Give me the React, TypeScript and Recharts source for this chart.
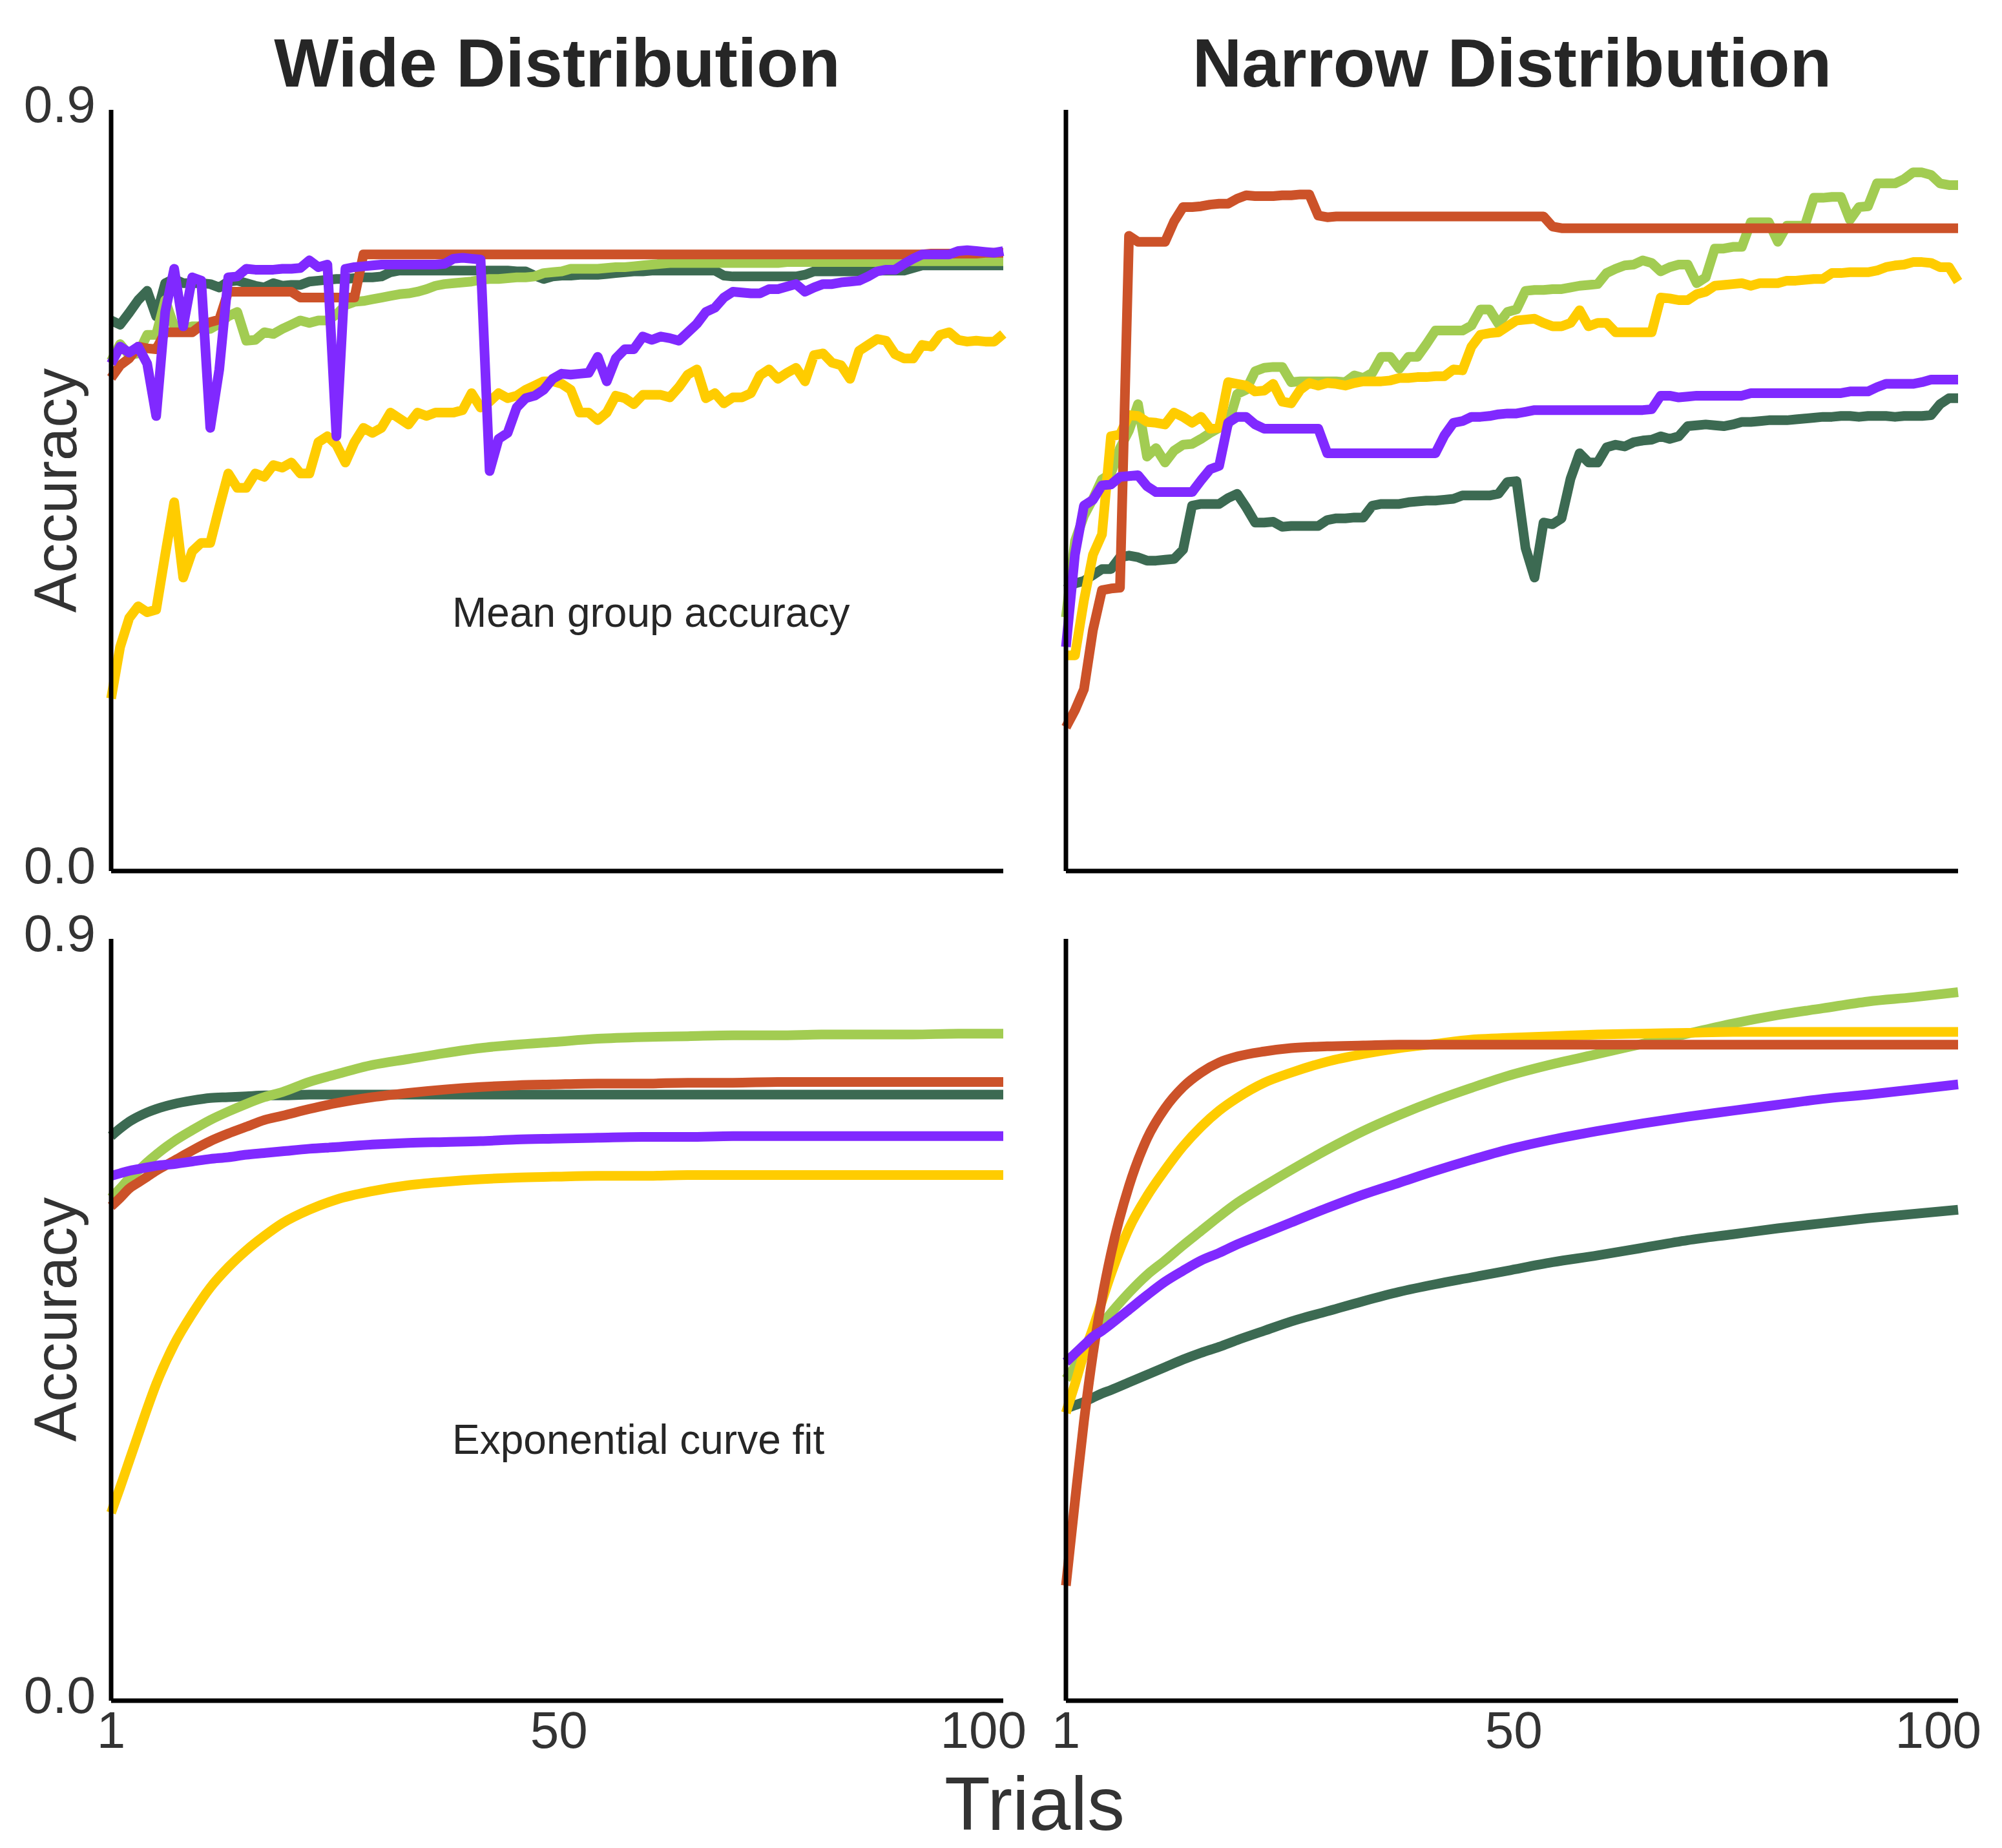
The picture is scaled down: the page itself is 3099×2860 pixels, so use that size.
import React from 'react';
import { LineChart, Line, XAxis, YAxis } from 'recharts';

// ---------- categories ----------
const TRIALS = [
  1, 2, 3, 4, 5, 6, 7, 8, 9, 10, 11, 12, 13, 14, 15, 16, 17, 18, 19, 20,
  21, 22, 23, 24, 25, 26, 27, 28, 29, 30, 31, 32, 33, 34, 35, 36, 37, 38, 39, 40,
  41, 42, 43, 44, 45, 46, 47, 48, 49, 50, 51, 52, 53, 54, 55, 56, 57, 58, 59, 60,
  61, 62, 63, 64, 65, 66, 67, 68, 69, 70, 71, 72, 73, 74, 75, 76, 77, 78, 79, 80,
  81, 82, 83, 84, 85, 86, 87, 88, 89, 90, 91, 92, 93, 94, 95, 96, 97, 98, 99, 100,
];
const FIT_TRIALS = [1, 2, 3, 4, 5, 6, 8, 10, 12, 14, 16, 18, 20, 23, 26, 30, 34, 38, 42, 46, 50, 55, 60, 65, 70, 75, 80, 85, 90, 95, 100];

// ---------- tick labels ----------
const X_TICK_POS = [1, 50.7, 97.8];
const X_TICK_LABELS = ['1', '50', '100'];
const Y_TICKS = [0, 0.9];

// ---------- Wide distribution: mean group accuracy ----------
const WIDE_YELLOW = [
  .204, .265, .299, .313, .306, .309, .374, .436, .347, .378,
  .388, .388, .430, .470, .453, .453, .470, .466, .480, .477,
  .483, .470, .470, .507, .514, .504, .483, .507, .524, .518,
  .524, .542, .535, .528, .542, .538, .542, .542, .542, .545,
  .565, .548, .555, .565, .559, .562, .569, .574, .579, .579,
  .576, .569, .542, .542, .533, .542, .562, .559, .552, .563,
  .563, .563, .560, .572, .587, .593, .559, .565, .553, .560,
  .560, .565, .586, .593, .582, .589, .595, .579, .610, .612,
  .601, .598, .582, .615, .622, .629, .627, .611, .606, .606,
  .622, .620, .634, .637, .628, .626, .627, .626, .626, .635,
];
const WIDE_ORANGE = [
  .583, .598, .606, .620, .618, .617, .637, .637, .637, .637,
  .645, .649, .652, .685, .685, .685, .685, .685, .685, .685,
  .685, .678, .678, .678, .678, .678, .678, .678, .729, .729,
  .729, .729, .729, .729, .729, .729, .729, .729, .729, .729,
  .729, .729, .729, .729, .729, .729, .729, .729, .729, .729,
  .729, .729, .729, .729, .729, .729, .729, .729, .729, .729,
  .729, .729, .729, .729, .729, .729, .729, .729, .729, .729,
  .729, .729, .729, .729, .729, .729, .729, .729, .729, .729,
  .729, .729, .729, .729, .729, .729, .729, .729, .729, .729,
  .729, .730, .730, .730, .730, .730, .730, .731, .731, .731,
];
const WIDE_GREEN = [
  .603, .623, .610, .612, .634, .634, .675, .644, .641, .644,
  .644, .641, .647, .656, .661, .627, .628, .637, .635, .641,
  .646, .651, .648, .651, .651, .658, .669, .673, .674, .676,
  .678, .680, .682, .683, .685, .688, .692, .694, .695, .696,
  .697, .699, .700, .700, .701, .702, .702, .703, .707, .708,
  .709, .712, .712, .712, .712, .713, .714, .714, .715, .716,
  .717, .718, .719, .719, .719, .719, .719, .719, .719, .719,
  .719, .719, .719, .719, .719, .720, .720, .720, .720, .720,
  .720, .720, .720, .720, .720, .720, .720, .720, .721, .721,
  .721, .721, .721, .721, .721, .721, .721, .721, .721, .721,
];
const WIDE_DKGREEN = [
  .651, .646, .660, .675, .686, .656, .695, .700, .695, .695,
  .695, .694, .690, .697, .698, .695, .692, .690, .695, .692,
  .693, .693, .697, .698, .699, .700, .700, .701, .702, .702,
  .703, .708, .710, .710, .710, .710, .710, .710, .710, .710,
  .710, .710, .710, .710, .710, .709, .709, .704, .700, .703,
  .704, .704, .705, .705, .705, .706, .707, .708, .709, .709,
  .710, .710, .710, .710, .710, .710, .710, .710, .704, .703,
  .703, .703, .703, .703, .703, .703, .703, .705, .709, .709,
  .709, .709, .709, .709, .710, .710, .710, .710, .710, .713,
  .716, .716, .716, .716, .716, .716, .716, .716, .716, .716,
];
const WIDE_PURPLE = [
  .600, .620, .613, .620, .600, .538, .661, .712, .644, .702,
  .698, .524, .593, .702, .703, .712, .711, .711, .711, .712,
  .712, .713, .722, .714, .717, .514, .712, .714, .715, .716,
  .717, .717, .717, .717, .717, .717, .717, .718, .724, .725,
  .724, .723, .473, .511, .518, .548, .559, .562, .569, .582,
  .588, .587, .588, .589, .608, .579, .606, .617, .617, .632,
  .628, .632, .630, .627, .637, .647, .661, .666, .678, .685,
  .684, .683, .683, .688, .688, .691, .694, .685, .690, .694,
  .694, .696, .697, .698, .703, .709, .711, .711, .718, .724,
  .729, .729, .729, .729, .733, .734, .733, .732, .731, .733,
];

// ---------- Narrow distribution: mean group accuracy ----------
const NARROW_YELLOW = [
  .255, .255, .320, .374, .398, .514, .516, .539, .538, .531,
  .530, .528, .542, .537, .530, .537, .523, .524, .578, .576,
  .574, .567, .568, .576, .555, .553, .569, .577, .574, .577,
  .576, .574, .577, .579, .579, .579, .580, .583, .583, .584,
  .584, .585, .585, .593, .592, .620, .634, .636, .637, .644,
  .651, .652, .653, .648, .644, .644, .648, .663, .644, .648,
  .648, .637, .637, .637, .637, .637, .678, .677, .675, .675,
  .682, .685, .692, .693, .694, .695, .692, .695, .695, .695,
  .698, .698, .699, .700, .700, .707, .707, .708, .708, .708,
  .710, .714, .716, .717, .720, .720, .719, .714, .714, .697,
];
const NARROW_ORANGE = [
  .170, .190, .215, .285, .332, .334, .335, .751, .744, .744,
  .744, .744, .768, .785, .785, .786, .788, .789, .789, .795,
  .799, .798, .798, .798, .799, .799, .800, .800, .775, .773,
  .774, .774, .774, .774, .774, .774, .774, .774, .774, .774,
  .774, .774, .774, .774, .774, .774, .774, .774, .774, .774,
  .774, .774, .774, .774, .762, .760, .760, .760, .760, .760,
  .760, .760, .760, .760, .760, .760, .760, .760, .760, .760,
  .760, .760, .760, .760, .760, .760, .760, .760, .760, .760,
  .760, .760, .760, .760, .760, .760, .760, .760, .760, .760,
  .760, .760, .760, .760, .760, .760, .760, .760, .760, .760,
];
const NARROW_GREEN = [
  .300, .390, .420, .440, .463, .470, .500, .521, .552, .490,
  .500, .483, .497, .504, .505, .511, .518, .524, .528, .564,
  .569, .591, .595, .596, .596, .578, .579, .579, .579, .579,
  .579, .578, .586, .583, .589, .608, .608, .594, .608, .608,
  .623, .639, .639, .639, .639, .645, .664, .664, .647, .661,
  .664, .686, .687, .687, .688, .688, .690, .692, .693, .694,
  .707, .712, .716, .717, .722, .719, .709, .714, .717, .717,
  .695, .702, .736, .736, .738, .738, .767, .767, .767, .744,
  .763, .763, .763, .796, .796, .797, .797, .770, .785, .786,
  .813, .813, .813, .818, .826, .826, .823, .813, .811, .811,
];
const NARROW_DKGREEN = [
  .333, .340, .343, .350, .357, .357, .371, .373, .371, .367,
  .367, .368, .369, .380, .432, .434, .434, .434, .441, .446,
  .430, .412, .412, .413, .407, .408, .408, .408, .408, .415,
  .417, .417, .418, .418, .432, .434, .434, .434, .436, .437,
  .438, .438, .439, .440, .444, .444, .444, .444, .446, .460,
  .461, .382, .347, .412, .410, .417, .464, .494, .483, .483,
  .501, .504, .502, .507, .509, .510, .514, .511, .514, .526,
  .527, .528, .527, .526, .528, .531, .531, .532, .533, .533,
  .533, .534, .535, .536, .537, .537, .538, .538, .537, .538,
  .538, .538, .537, .538, .538, .538, .539, .552, .559, .559,
];
const NARROW_PURPLE = [
  .265, .374, .432, .439, .456, .457, .466, .467, .468, .455,
  .448, .448, .448, .448, .448, .462, .475, .479, .530, .537,
  .537, .528, .523, .523, .523, .523, .523, .523, .523, .494,
  .494, .494, .494, .494, .494, .494, .494, .494, .494, .494,
  .494, .494, .515, .530, .532, .537, .537, .538, .540, .541,
  .541, .543, .545, .545, .545, .545, .545, .545, .545, .545,
  .545, .545, .545, .545, .545, .546, .562, .562, .560, .561,
  .562, .562, .562, .562, .562, .562, .565, .565, .565, .565,
  .565, .565, .565, .565, .565, .565, .565, .567, .567, .567,
  .572, .576, .576, .576, .576, .578, .581, .581, .581, .581,
];

// ---------- Wide distribution: exponential curve fit ----------
const WIDE_FIT_YELLOW = [.222, .252, .283, .314, .345, .374, .421, .457, .488, .512, .532, .549, .564, .580, .592, .602, .609, .613, .616, .618, .619, .620, .620, .621, .621, .621, .621, .621, .621, .621, .621];
const WIDE_FIT_GREEN = [.594, .605, .617, .626, .636, .645, .661, .674, .686, .696, .705, .713, .719, .731, .740, .751, .758, .765, .771, .775, .778, .782, .784, .785, .786, .786, .787, .787, .787, .788, .788];
const WIDE_FIT_ORANGE = [.584, .594, .605, .612, .619, .626, .638, .650, .661, .670, .678, .686, .691, .699, .706, .713, .718, .722, .725, .727, .728, .729, .729, .730, .730, .731, .731, .731, .731, .731, .731];
const WIDE_FIT_DKGREEN = [.667, .676, .684, .690, .695, .699, .705, .709, .712, .713, .714, .715, .715, .716, .716, .716, .716, .716, .716, .716, .716, .716, .716, .716, .716, .716, .716, .716, .716, .716, .716];
const WIDE_FIT_PURPLE = [.620, .623, .626, .628, .630, .632, .634, .637, .640, .642, .645, .647, .649, .652, .654, .657, .659, .660, .661, .663, .664, .665, .666, .666, .667, .667, .667, .667, .667, .667, .667];

// ---------- Narrow distribution: exponential curve fit ----------
const NARROW_FIT_YELLOW = [.340, .374, .410, .440, .472, .504, .558, .596, .627, .655, .678, .697, .712, .730, .742, .755, .764, .771, .776, .781, .783, .785, .787, .788, .789, .790, .790, .790, .790, .790, .790];
const NARROW_FIT_ORANGE = [.136, .235, .330, .410, .475, .528, .608, .664, .700, .725, .742, .754, .761, .767, .771, .773, .774, .775, .775, .775, .775, .775, .775, .775, .775, .775, .775, .775, .775, .775, .775];
const NARROW_FIT_GREEN = [.380, .395, .415, .432, .445, .458, .482, .503, .520, .538, .555, .572, .588, .608, .627, .651, .673, .692, .709, .724, .738, .752, .764, .776, .788, .800, .810, .818, .826, .831, .837];
const NARROW_FIT_PURPLE = [.400, .410, .420, .430, .437, .445, .462, .479, .495, .508, .520, .529, .539, .552, .565, .582, .598, .612, .626, .639, .651, .663, .673, .682, .690, .697, .704, .711, .716, .722, .728];
const NARROW_FIT_DKGREEN = [.345, .349, .353, .358, .363, .367, .376, .385, .394, .403, .411, .418, .426, .437, .448, .460, .472, .483, .492, .500, .508, .518, .526, .535, .544, .551, .558, .564, .570, .575, .580];

// ---------- styling ----------
const COLORS: Record<string, string> = {
  dkgreen: '#3C6A52',
  green: '#A2CC52',
  yellow: '#FFCC00',
  orange: '#CC5229',
  purple: '#8029FF',
};
const SERIES_ORDER = ['dkgreen', 'green', 'yellow', 'orange', 'purple'];
const FONT = '"Liberation Sans", Arial, Helvetica, sans-serif';
const TEXT = '#333333';

type SeriesSet = { yellow: number[]; orange: number[]; green: number[]; dkgreen: number[]; purple: number[] };

function buildRows(xs: number[], s: SeriesSet) {
  return xs.map((t, i) => ({
    t,
    yellow: s.yellow[i],
    orange: s.orange[i],
    green: s.green[i],
    dkgreen: s.dkgreen[i],
    purple: s.purple[i],
  }));
}

const wideMeanRows = buildRows(TRIALS, { yellow: WIDE_YELLOW, orange: WIDE_ORANGE, green: WIDE_GREEN, dkgreen: WIDE_DKGREEN, purple: WIDE_PURPLE });
const narrowMeanRows = buildRows(TRIALS, { yellow: NARROW_YELLOW, orange: NARROW_ORANGE, green: NARROW_GREEN, dkgreen: NARROW_DKGREEN, purple: NARROW_PURPLE });
const wideFitRows = buildRows(FIT_TRIALS, { yellow: WIDE_FIT_YELLOW, orange: WIDE_FIT_ORANGE, green: WIDE_FIT_GREEN, dkgreen: WIDE_FIT_DKGREEN, purple: WIDE_FIT_PURPLE });
const narrowFitRows = buildRows(FIT_TRIALS, { yellow: NARROW_FIT_YELLOW, orange: NARROW_FIT_ORANGE, green: NARROW_FIT_GREEN, dkgreen: NARROW_FIT_DKGREEN, purple: NARROW_FIT_PURPLE });

const L = 172;
const T = 70;
const R = 90;
const B = 120;
const PLOT_W = 1381;

type PanelProps = {
  left: number;
  top: number;
  plotH: number;
  data: any[];
  showX: boolean;
  showY: boolean;
  curve: 'linear' | 'monotone';
};

function Panel({ left, top, plotH, data, showX, showY, curve }: PanelProps) {
  const xTick = (p: any) => {
    const idx = X_TICK_POS.indexOf(p.payload.value);
    return (
      <text x={p.x} y={T + plotH + 73} textAnchor="middle" fontSize={80} fontFamily={FONT} fill={TEXT}>
        {X_TICK_LABELS[idx]}
      </text>
    );
  };
  const yTick = (p: any) => (
    <text x={L - 24} y={p.y + 19} textAnchor="end" fontSize={80} fontFamily={FONT} fill={TEXT}>
      {Number(p.payload.value).toFixed(1)}
    </text>
  );
  return (
    <div style={{ position: 'absolute', left: left - L, top: top - T }}>
      <LineChart
        width={L + PLOT_W + R}
        height={T + plotH + B}
        data={data}
        margin={{ top: T, right: R, bottom: 0, left: 0 }}
      >
        <XAxis
          dataKey="t"
          type="number"
          domain={[1, 100]}
          ticks={X_TICK_POS}
          interval={0}
          height={B}
          axisLine={{ stroke: '#000000', strokeWidth: 7 }}
          tickLine={false}
          tick={showX ? xTick : false}
        />
        <YAxis
          type="number"
          domain={[0, 0.9]}
          ticks={Y_TICKS}
          interval={0}
          width={L}
          axisLine={{ stroke: '#000000', strokeWidth: 7 }}
          tickLine={false}
          tick={showY ? yTick : false}
        />
        {SERIES_ORDER.map((k) => (
          <Line
            key={k}
            dataKey={k}
            type={curve}
            stroke={COLORS[k]}
            strokeWidth={15}
            strokeLinejoin="round"
            strokeLinecap="butt"
            dot={false}
            activeDot={false}
            isAnimationActive={false}
          />
        ))}
      </LineChart>
    </div>
  );
}

export default function App() {
  return (
    <div style={{ position: 'absolute', left: 0, top: 0, width: 3099, height: 2860, background: '#ffffff', overflow: 'hidden' }}>
      <Panel left={172} top={170} plotH={1178} data={wideMeanRows} showX={false} showY={true} curve="linear" />
      <Panel left={1650} top={170} plotH={1178} data={narrowMeanRows} showX={false} showY={false} curve="linear" />
      <Panel left={172} top={1453} plotH={1179} data={wideFitRows} showX={true} showY={true} curve="monotone" />
      <Panel left={1650} top={1453} plotH={1179} data={narrowFitRows} showX={true} showY={false} curve="monotone" />
      <svg width={3099} height={2860} style={{ position: 'absolute', left: 0, top: 0, pointerEvents: 'none' }}>
        <text x={862.5} y={134} textAnchor="middle" fontSize={106} fontWeight="bold" fontFamily={FONT} fill="#262626">
          Wide Distribution
        </text>
        <text x={2340.5} y={134} textAnchor="middle" fontSize={106} fontWeight="bold" fontFamily={FONT} fill="#262626">
          Narrow Distribution
        </text>
        <text transform="translate(118,759) rotate(-90)" textAnchor="middle" fontSize={92} fontFamily={FONT} fill={TEXT}>
          Accuracy
        </text>
        <text transform="translate(118,2042) rotate(-90)" textAnchor="middle" fontSize={92} fontFamily={FONT} fill={TEXT}>
          Accuracy
        </text>
        <text x={1601.5} y={2832} textAnchor="middle" fontSize={116} fontFamily={FONT} fill={TEXT}>
          Trials
        </text>
        <text x={700} y={970} textAnchor="start" fontSize={64} fontFamily={FONT} fill="#262626">
          Mean group accuracy
        </text>
        <text x={700} y={2250} textAnchor="start" fontSize={64} fontFamily={FONT} fill="#262626">
          Exponential curve fit
        </text>
      </svg>
    </div>
  );
}
